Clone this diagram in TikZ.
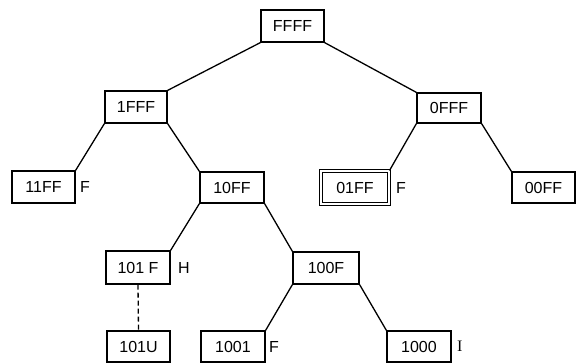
\documentclass[tikz,border=0pt]{standalone}
\usepackage{fontspec}
\setmainfont{Liberation Sans}
\newfontfamily\serifI{Liberation Serif}
\begin{document}
\begin{tikzpicture}[x=1pt,y=-1pt,
  keybox/.style={draw, line width=1.2pt, inner sep=0pt, minimum width=63pt, minimum height=31pt, font=\fontsize{16}{18}\selectfont},
  flag/.style={anchor=west, inner sep=0pt, font=\fontsize{16}{18}\selectfont},
  edge/.style={line width=1.3pt}]
\useasboundingbox (0,0) rectangle (582,364);
\node[keybox, minimum height=32pt] (ffff) at (292.5,26) {FFFF};
\node[keybox, minimum width=62pt, minimum height=32pt] (n1fff) at (136,107) {1FFF};
\node[keybox, minimum width=64pt, minimum height=30pt] (n0fff) at (449,108) {0FFF};
\node[keybox, minimum height=32pt] (n11ff) at (43.5,187) {11FF};
\node[keybox, minimum width=64pt] (n10ff) at (232,187.5) {10FF};
\node[keybox, double, double distance=1.6pt, line width=1pt, minimum width=68pt, minimum height=33pt] (n01ff) at (355,187.5) {01FF};
\node[keybox] (n00ff) at (543.5,187.5) {00FF};
\node[keybox, minimum width=64pt, minimum height=33pt] (n101f) at (138,267.5) {101 F};
\node[keybox, minimum width=66pt, minimum height=32pt] (n100f) at (326,268) {100F};
\node[keybox] (n101u) at (138.5,346.5) {101U};
\node[keybox, minimum width=64pt] (n1001) at (233,346.5) {1001};
\node[keybox, minimum width=64pt] (n1000) at (419,346.5) {1000};
\node[flag] (f11ff) at (80,187) {F};
\node[flag] (f01ff) at (396,187.5) {F};
\node[flag] (h101f) at (178,267.5) {H};
\node[flag] (f1001) at (269,346.5) {F};
\node[flag, font=\serifI\fontsize{16}{18}\selectfont] (i1000) at (457,346.5) {I};
\draw[edge] (ffff.south west) -- (n1fff.north east);
\draw[edge] (ffff.south east) -- (n0fff.north west);
\draw[edge] (n1fff.south west) -- (n11ff.north east);
\draw[edge] (n1fff.south east) -- (n10ff.north west);
\draw[edge] (n0fff.south west) -- (n01ff.north east);
\draw[edge] (n0fff.south east) -- (n00ff.north west);
\draw[edge] (n10ff.south west) -- (n101f.north east);
\draw[edge] (n10ff.south east) -- (n100f.north west);
\draw[edge, dashed, dash pattern=on 5pt off 3pt] (n101f.south) -- (n101u.north);
\draw[edge] (n100f.south west) -- (n1001.north east);
\draw[edge] (n100f.south east) -- (n1000.north west);
\end{tikzpicture}
\end{document}
